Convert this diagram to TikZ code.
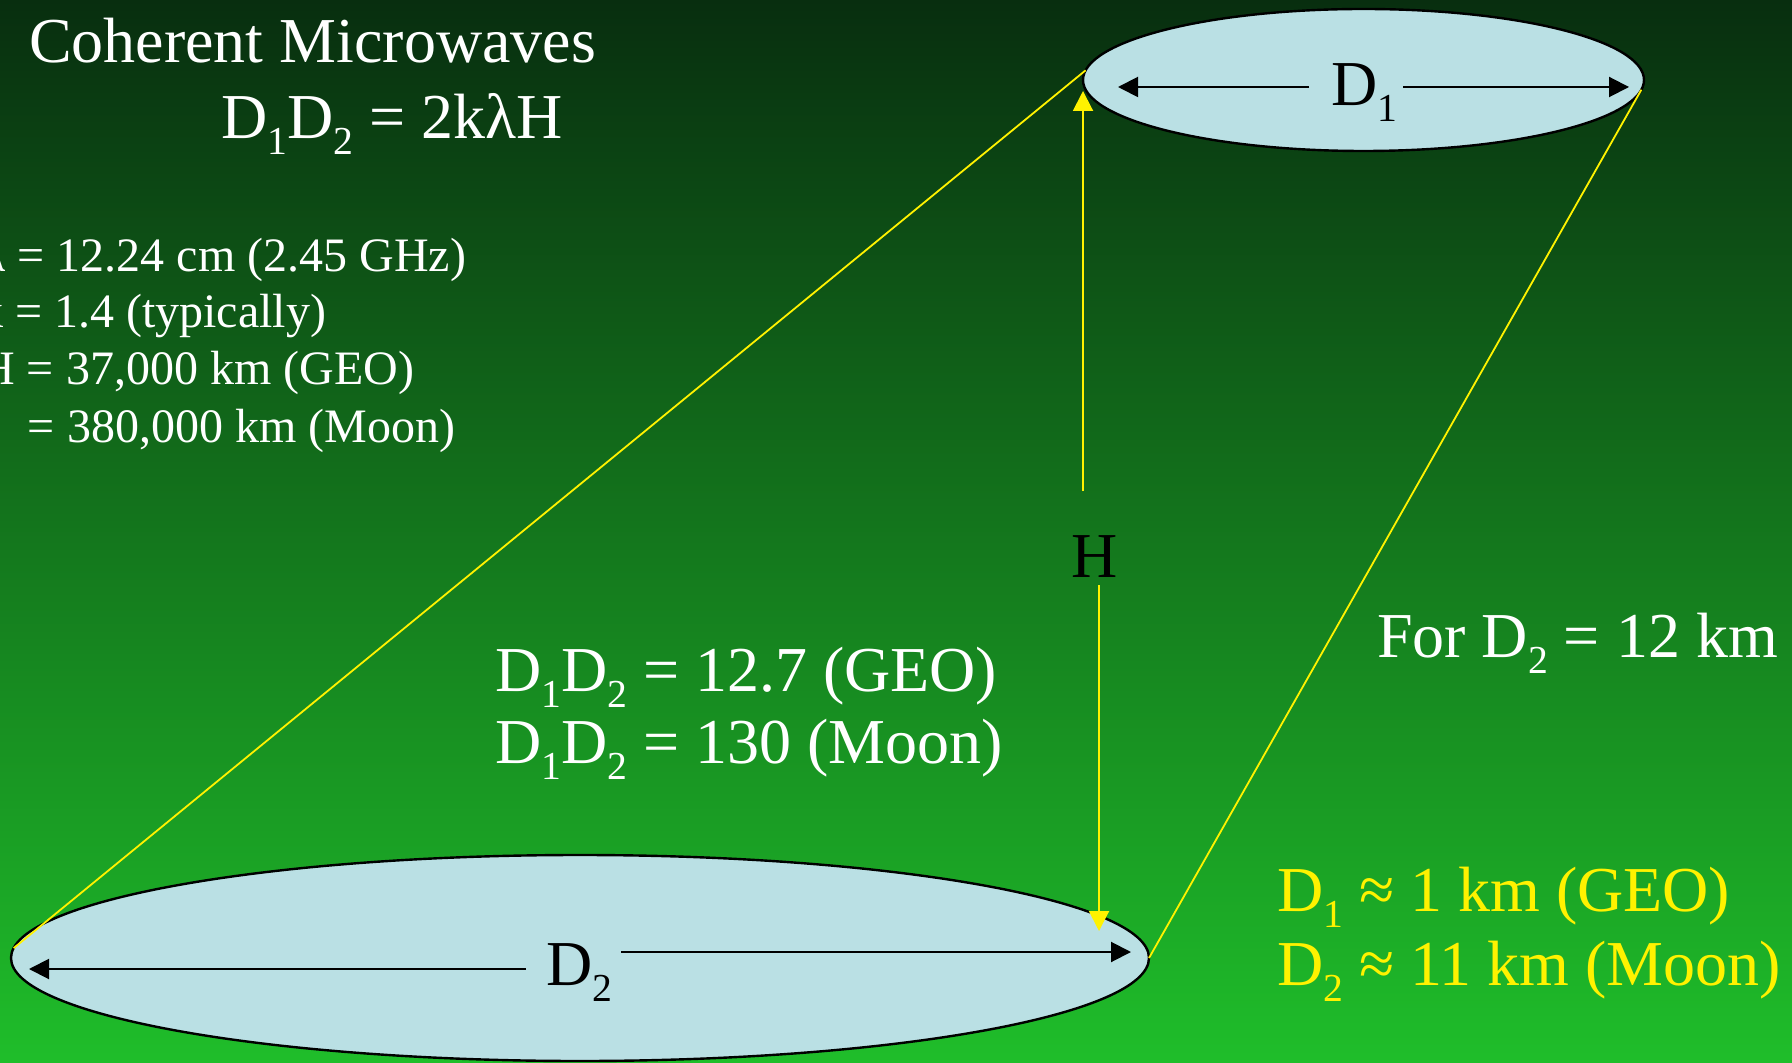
\documentclass[tikz,border=0pt]{standalone}
\usepackage{fontspec}
\setmainfont{Liberation Serif}
\usepackage{graphicx}
\usetikzlibrary{shapes.geometric,arrows.meta,calc}
\definecolor{bgtop}{RGB}{8,46,15}
\definecolor{bgbot}{RGB}{31,190,42}
\definecolor{dishfill}{RGB}{186,224,228}
\newcommand{\sbs}[1]{\raisebox{-0.25em}{\scalebox{0.62}{#1}}}
\newcommand{\fsz}[1]{\fontsize{#1}{#1}\selectfont}
\begin{document}
\begin{tikzpicture}[x=0.5pt,y=-0.5pt,
  txt/.style={inner sep=0pt, outer sep=0pt, anchor=base west, text=white, font=\fsz{32pt}},
  listtxt/.style={inner sep=0pt, outer sep=0pt, anchor=base east, text=white, font=\fsz{24pt}},
  dish/.style={ellipse, draw=black, line width=1.2pt, fill=dishfill, inner sep=0pt, outer sep=0pt},
  lab/.style={inner sep=0pt, outer sep=0pt, anchor=base west, text=black, font=\fsz{32pt}},
  barrow/.style={draw=black, line width=1pt, -{Triangle[length=10pt,width=10pt]}},
  yarrow/.style={draw=yellow, line width=1pt, -{Triangle[length=10pt,width=10pt]}},
  yline/.style={draw=yellow, line width=0.9pt},
]
\clip (0,0) rectangle (1792,1063);
\shade[top color=bgtop, bottom color=bgbot] (0,0) rectangle (1792,1063);

% dishes
\node[dish, minimum width=280.5pt, minimum height=71pt] (e1) at (1363.5,80) {};
\node[dish, minimum width=569pt, minimum height=103pt] (e2) at (580,958) {};

% yellow beam lines
\draw[yline] (e1.178.2) -- (e2.179.4);
\draw[yline] (e1.358.6) -- (e2.0.6);

% D1 label and arrows
\node[lab] (d1) at (1331,106) {D\sbs{1}};
\coordinate (d1L) at (1118,87);
\coordinate (d1R) at (1629,87);
\draw[barrow] ($(d1.west |- d1L)+(-22,0)$) -- (d1L);
\draw[barrow] ($(d1.east |- d1R)+(6,0)$) -- (d1R);

% D2 label and arrows
\node[lab] (d2) at (546,985) {D\sbs{2}};
\coordinate (d2L) at (29,969);
\coordinate (d2R) at (1131,952);
\draw[barrow] ($(d2.west |- d2L)+(-20,0)$) -- (d2L);
\draw[barrow] ($(d2.east |- d2R)+(9,0)$) -- (d2R);

% H label and arrows
\node[lab] (h) at (1071,577) {H};
\coordinate (hT) at (1083,91);
\coordinate (hB) at (1099,931);
\draw[yarrow] ($(h.north -| hT)+(0,-44)$) -- (hT);
\draw[yarrow] ($(h.south -| hB)+(0,8)$) -- (hB);

% texts
\node[txt] (title) at (29,63) {Coherent Microwaves};
\node[txt] (formula) at (221,139) {D\sbs{1}D\sbs{2} = 2kλH};
\node[listtxt] (l1) at (466,272) {λ = 12.24 cm (2.45 GHz)};
\node[listtxt] (l2) at (326,328) {k = 1.4 (typically)};
\node[listtxt] (l3) at (414,385) {H = 37,000 km (GEO)};
\node[listtxt] (l4) at (455,443) {= 380,000 km (Moon)};
\node[txt] (c1) at (495,691) {D\sbs{1}D\sbs{2} = 12.7 (GEO)};
\node[txt] (c2) at (495,763) {D\sbs{1}D\sbs{2} = 130 (Moon)};
\node[txt] (for) at (1377,657) {For D\sbs{2} = 12 km};
\node[txt, text=yellow] (y1) at (1277,911) {D\sbs{1} ≈ 1 km (GEO)};
\node[txt, text=yellow] (y2) at (1277,985) {D\sbs{2} ≈ 11 km (Moon)};
\end{tikzpicture}
\end{document}
